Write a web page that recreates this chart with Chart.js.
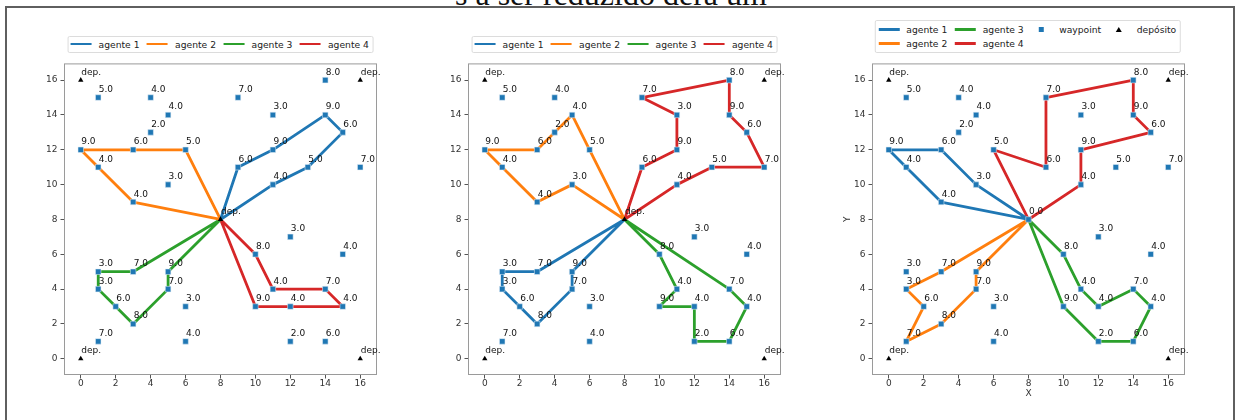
<!DOCTYPE html>
<html>
<head>
<meta charset="utf-8">
<script src="https://cdn.jsdelivr.net/npm/chart.js@4.4.0/dist/chart.umd.min.js"></script>
<style>
    body { margin: 0; width: 1235px; height: 420px; overflow: hidden; position: relative; background: #fff; font-family: "DejaVu Sans", sans-serif; }
    #moldura { position: absolute; left: 5px; top: 6px; width: 1226px; height: 440px; border: 2px solid #5f5f5f; border-bottom: none; }
    #cabecalho { position: absolute; left: 455px; top: -22.5px; font: 32px/32px "Liberation Serif", serif; white-space: nowrap; color: #111; }
    canvas.painel { position: absolute; }
    .legenda { position: absolute; background: #fff; border: 1px solid #dcdcdc; border-radius: 2px; display: grid; grid-auto-flow: column; column-gap: 7.5px; align-items: center; box-sizing: border-box; font-size: 9.2px; color: #222; transform: translateX(-50%); }
    .item { display: flex; align-items: center; height: 14px; white-space: nowrap; }
    .alca { width: 21px; height: 14px; position: relative; margin-right: 7px; }
    .alca .linha { position: absolute; left: 0; right: 0; top: 5.6px; height: 2.8px; }
    .alca .quadrado { position: absolute; left: 8px; top: 4.5px; width: 5px; height: 5px; background: #1f77b4; }
    .alca .triangulo { position: absolute; left: 7.5px; top: 4px; width: 0; height: 0; border-left: 3px solid transparent; border-right: 3px solid transparent; border-bottom: 5px solid #000; }
</style>
</head>
<body>
<div id="cabecalho">s a ser reduzido dera um</div>
<div id="moldura"></div>

<canvas class="painel" id="painel1"></canvas>
<canvas class="painel" id="painel2"></canvas>
<canvas class="painel" id="painel3"></canvas>
<div class="legenda" id="legenda1"></div>
<div class="legenda" id="legenda2"></div>
<div class="legenda" id="legenda3"></div>

<script>
// waypoints e o valor de cada um
var waypointX = [1, 4, 5, 4, 0, 1, 3, 6, 5, 3, 9, 11, 14, 14, 15, 11, 9, 13, 11, 16,
                 12, 15, 10, 1, 3, 5, 1, 5, 11, 14, 2, 6, 10, 12, 15, 3, 1, 6, 12, 14];
var waypointY = [15, 15, 14, 13, 12, 11, 12, 12, 10, 9, 15, 14, 16, 14, 13, 12, 11, 11, 10, 11,
                 7, 6, 6, 5, 5, 5, 4, 4, 4, 4, 3, 3, 3, 3, 3, 2, 1, 1, 1, 1];
var waypointValor = [5, 4, 4, 2, 9, 4, 6, 5, 3, 4, 7, 3, 8, 9, 6, 9, 6, 5, 4, 7,
                     3, 4, 8, 3, 7, 9, 3, 7, 4, 7, 6, 3, 9, 4, 4, 8, 7, 4, 2, 6];

// depósitos nos cantos e a base central
var depositoX = [0, 16, 0, 16];
var depositoY = [16, 16, 0, 0];
var baseX = 8;
var baseY = 8;
var baseValor = 0;

var ticksEixo = [0, 2, 4, 6, 8, 10, 12, 14, 16];
var agentes = ["agente 1", "agente 2", "agente 3", "agente 4"];
var cores = ["#1f77b4", "#ff7f0e", "#2ca02c", "#d62728"];

// rotas de cada agente, por painel
var rotasPainel1 = [
    [[8,8],[9,11],[11,12],[14,14],[15,13],[13,11],[11,10],[8,8]],
    [[8,8],[3,9],[1,11],[0,12],[3,12],[6,12],[8,8]],
    [[8,8],[3,5],[1,5],[1,4],[2,3],[3,2],[5,4],[5,5],[8,8]],
    [[8,8],[10,6],[11,4],[14,4],[15,3],[12,3],[10,3],[8,8]]
];
var rotasPainel2 = [
    [[8,8],[3,5],[1,5],[1,4],[2,3],[3,2],[5,4],[5,5],[8,8]],
    [[8,8],[5,10],[3,9],[1,11],[0,12],[3,12],[4,13],[5,14],[6,12],[8,8]],
    [[8,8],[10,6],[11,4],[10,3],[12,3],[12,1],[14,1],[15,3],[14,4],[8,8]],
    [[8,8],[9,11],[11,12],[11,14],[9,15],[14,16],[14,14],[15,13],[16,11],[13,11],[11,10],[8,8]]
];
var rotasPainel3 = [
    [[8,8],[3,9],[1,11],[0,12],[3,12],[5,10],[8,8]],
    [[8,8],[3,5],[1,4],[2,3],[1,1],[3,2],[5,4],[5,5],[8,8]],
    [[8,8],[10,6],[11,4],[12,3],[14,4],[15,3],[14,1],[12,1],[10,3],[8,8]],
    [[8,8],[6,12],[9,11],[9,15],[14,16],[14,14],[15,13],[11,12],[11,10],[8,8]]
];

var fonteEixo = { family: "DejaVu Sans", size: 9 };

// moldura do eixo e rótulos de valor de cada ponto
var rotulosPlugin = {
    id: 'rotulos',
    afterDatasetsDraw: function(chart) {
        var ctx = chart.ctx, a = chart.chartArea;
        var sx = chart.scales.x, sy = chart.scales.y;
        ctx.save();
        ctx.strokeStyle = '#9a9a9a';
        ctx.lineWidth = 1;
        ctx.strokeRect(a.left + 0.5, a.top + 0.5, a.right - a.left - 1, a.bottom - a.top - 1);

        ctx.fillStyle = '#111';
        ctx.font = '9px "DejaVu Sans"';
        ctx.textAlign = 'left';
        ctx.textBaseline = 'alphabetic';
        chart.options.rotulos.forEach(function(r) {
            ctx.fillText(r.texto, sx.getPixelForValue(r.x) + 0.5, sy.getPixelForValue(r.y) - 5.5);
        });
        ctx.restore();
    }
};

function eixo(min, max, largura, altura, titulo, tituloPad) {
    return {
        type: 'linear',
        min: min,
        max: max,
        afterBuildTicks: function(s) { s.ticks = ticksEixo.map(function(v) { return { value: v }; }); },
        afterFit: function(s) {
            if (largura) s.width = largura;
            if (altura) s.height = altura;
        },
        grid: { drawOnChartArea: false, drawTicks: true, tickLength: 3.5, color: '#555' },
        border: { display: false },
        ticks: { font: fonteEixo, color: '#333', padding: largura ? 3 : 0 },
        title: { display: !!titulo, text: titulo, font: fonteEixo, color: '#333', padding: tituloPad || 0 }
    };
}

function montaPainel(id, rotas, baseDeposito, comTitulos) {
    var esquerda = [24, 428, 832][id - 1];
    var canvas = document.getElementById('painel' + id);
    canvas.style.left = esquerda + 'px';
    canvas.style.top = '55px';
    canvas.style.width = '363px';
    canvas.style.height = '345px';
    canvas.width = 363;
    canvas.height = 345;

    var datasets = [];
    rotas.forEach(function(rota, i) {
        datasets.push({
            label: agentes[i],
            data: rota.map(function(p) { return { x: p[0], y: p[1] }; }),
            showLine: true,
            borderColor: cores[i],
            backgroundColor: cores[i],
            borderWidth: 2.8,
            borderJoinStyle: 'round',
            pointRadius: 0,
            order: 2
        });
    });

    var wps = waypointX.map(function(x, i) { return { x: x, y: waypointY[i], v: waypointValor[i] }; });
    var deps = depositoX.map(function(x, i) { return { x: x, y: depositoY[i] }; });
    if (baseDeposito) deps.push({ x: baseX, y: baseY });
    else wps.push({ x: baseX, y: baseY, v: baseValor });

    datasets.push({
        label: 'waypoint',
        data: wps,
        pointStyle: 'rect',
        pointRadius: 3.9,
        backgroundColor: '#1f77b4',
        borderColor: 'rgba(225,236,246,0.9)',
        borderWidth: 0.6,
        order: 1
    });
    datasets.push({
        label: 'depósito',
        data: deps,
        pointStyle: 'triangle',
        pointRadius: 3.1,
        backgroundColor: '#000',
        borderColor: '#000',
        borderWidth: 0,
        order: 0
    });

    var rotulos = wps.map(function(p) { return { x: p.x, y: p.y, texto: p.v.toFixed(1) }; })
        .concat(deps.map(function(p) { return { x: p.x, y: p.y, texto: 'dep.' }; }));

    return new Chart(canvas.getContext('2d'), {
        type: 'scatter',
        data: { datasets: datasets },
        options: {
            responsive: false,
            animation: false,
            events: [],
            rotulos: rotulos,
            layout: { padding: { left: 0, right: 10, top: 8, bottom: 0 } },
            plugins: { legend: { display: false }, tooltip: { enabled: false } },
            scales: {
                x: eixo(-0.96, 16.96, 0, 25, comTitulos ? 'X' : '', { top: 0, bottom: 0.6 }),
                y: eixo(-0.93, 16.96, 40, 0, comTitulos ? 'Y' : '', { top: 10.6, bottom: 0 })
            }
        },
        plugins: [rotulosPlugin]
    });
}

// legenda em HTML, centrada sobre o eixo
function montaLegenda(id, centro, topo, linhas, extras) {
    var leg = document.getElementById('legenda' + id);
    leg.style.left = centro + 'px';
    leg.style.top = topo + 'px';
    leg.style.gridTemplateRows = 'repeat(' + linhas + ', 14px)';
    leg.style.padding = (linhas > 1 ? '1.5px' : '0.5px') + ' 4px ' + (linhas > 1 ? '1.5px' : '0.5px') + ' 2.5px';
    var html = '';
    agentes.forEach(function(nome, i) {
        html += '<div class="item"><span class="alca"><span class="linha" style="background:' + cores[i] + '"></span></span>' + nome + '</div>';
    });
    if (extras) {
        html += '<div class="item" style="grid-row:1;grid-column:3"><span class="alca"><span class="quadrado"></span></span>waypoint</div>';
        html += '<div class="item" style="grid-row:1;grid-column:4"><span class="alca"><span class="triangulo"></span></span>depósito</div>';
    }
    leg.innerHTML = html;
}

montaPainel(1, rotasPainel1, true, false);
montaPainel(2, rotasPainel2, true, false);
montaPainel(3, rotasPainel3, false, true);

montaLegenda(1, 220.5, 35.5, 1, false);
montaLegenda(2, 624.5, 35.5, 1, false);
montaLegenda(3, 1028, 20, 2, true);
</script>
</body>
</html>
